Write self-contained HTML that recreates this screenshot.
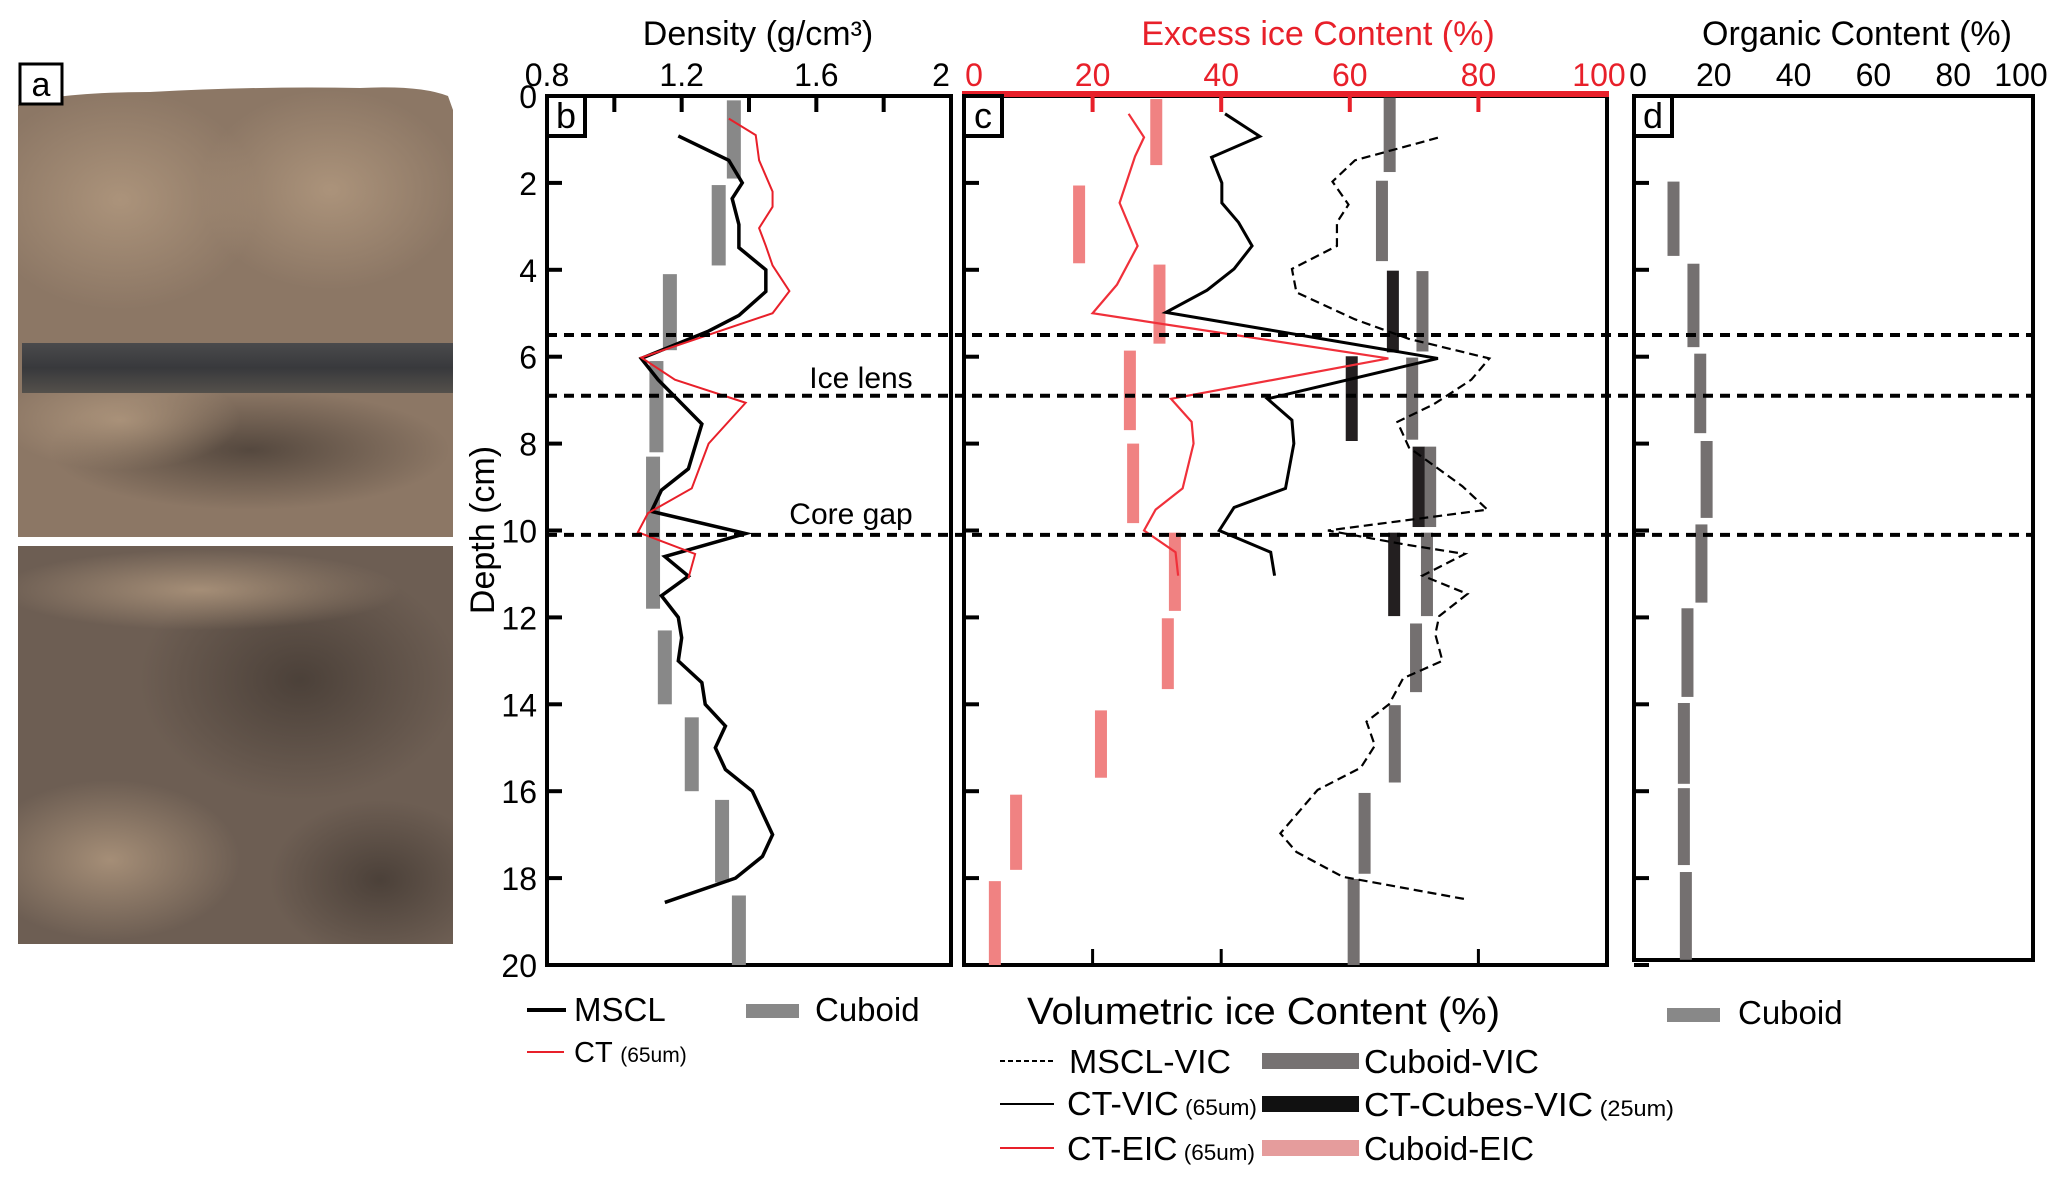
<!DOCTYPE html>
<html><head><meta charset="utf-8"><style>
html,body{margin:0;padding:0;background:#fff;}
svg{display:block;font-family:"Liberation Sans",sans-serif;}
</style></head><body>
<svg id="fig" width="2067" height="1179" viewBox="0 0 2067 1179" xmlns="http://www.w3.org/2000/svg">
<defs>
<radialGradient id="g1" cx="0.5" cy="0.5" r="0.5"><stop offset="0" stop-color="#b39a80" stop-opacity="0.8"/><stop offset="1" stop-color="#b39a80" stop-opacity="0"/></radialGradient>
<radialGradient id="g2" cx="0.5" cy="0.5" r="0.5"><stop offset="0" stop-color="#3d342e" stop-opacity="0.7"/><stop offset="1" stop-color="#3d342e" stop-opacity="0"/></radialGradient>
<linearGradient id="band" x1="0" y1="0" x2="0" y2="1"><stop offset="0" stop-color="#4a4a4c"/><stop offset="0.5" stop-color="#38393c"/><stop offset="1" stop-color="#54504b"/></linearGradient>
<clipPath id="photoclip">
<path d="M18,105 Q60,92 150,92 Q260,86 360,88 Q420,85 448,96 L453,110 L453,537 L18,537 Z"/>
<rect x="18" y="546" width="435" height="398"/>
</clipPath>
</defs>

<g clip-path="url(#photoclip)">
<rect x="18" y="85" width="440" height="460" fill="#8c7765"/>
<rect x="18" y="546" width="440" height="398" fill="#6d5e53"/>
<ellipse cx="120" cy="200" rx="140" ry="110" fill="url(#g1)"/>
<ellipse cx="330" cy="190" rx="130" ry="100" fill="url(#g1)"/>
<ellipse cx="250" cy="450" rx="200" ry="60" fill="url(#g2)"/>
<ellipse cx="120" cy="420" rx="120" ry="50" fill="url(#g1)"/>
<ellipse cx="300" cy="680" rx="160" ry="120" fill="url(#g2)"/>
<ellipse cx="110" cy="860" rx="130" ry="80" fill="url(#g1)"/>
<ellipse cx="380" cy="880" rx="110" ry="80" fill="url(#g2)"/>
<ellipse cx="200" cy="590" rx="200" ry="40" fill="url(#g1)"/>
<rect x="22" y="343" width="431" height="50" fill="url(#band)"/>
</g>
<rect x="20" y="64" width="42" height="40" fill="#fff" stroke="#000" stroke-width="3"/>
<text x="41" y="96" font-size="34" text-anchor="middle">a</text>

<g id="axes"></g>
<g id="marks"></g>

<text x="758" y="45" font-size="34" text-anchor="middle">Density (g/cm³)</text>
<text x="1318" y="45" font-size="34" text-anchor="middle" fill="#e8202a">Excess ice Content (%)</text>
<text x="1857" y="45" font-size="34" text-anchor="middle">Organic Content (%)</text>
<text transform="translate(494,530) rotate(-90)" font-size="34" text-anchor="middle">Depth (cm)</text>
<text x="861" y="388" font-size="30" text-anchor="middle">Ice lens</text>
<text x="851" y="524" font-size="30" text-anchor="middle">Core gap</text>
<text x="1027" y="1024" font-size="38" textLength="473" lengthAdjust="spacingAndGlyphs">Volumetric ice Content (%)</text>

<g>
<line x1="527" y1="1010" x2="566" y2="1010" stroke="#000" stroke-width="4"/>
<text x="574" y="1021" font-size="33">MSCL</text>
<rect x="746" y="1004" width="53" height="14" fill="#888"/>
<text x="815" y="1021" font-size="33">Cuboid</text>
<line x1="527" y1="1052" x2="564" y2="1052" stroke="#e8202a" stroke-width="2"/>
<text x="574" y="1062" font-size="29">CT <tspan font-size="21">(65um)</tspan></text>
</g>
<g>
<rect x="1667" y="1008" width="53" height="14" fill="#888"/>
<text x="1738" y="1024" font-size="33">Cuboid</text>
</g>
<g font-size="33">
<line x1="1000" y1="1061" x2="1054" y2="1061" stroke="#000" stroke-width="2" stroke-dasharray="5 3"/>
<text x="1069" y="1073" textLength="162" lengthAdjust="spacingAndGlyphs">MSCL-VIC</text>
<line x1="1000" y1="1104" x2="1054" y2="1104" stroke="#000" stroke-width="2"/>
<text x="1067" y="1115" textLength="190" lengthAdjust="spacingAndGlyphs">CT-VIC<tspan font-size="22"> (65um)</tspan></text>
<line x1="1000" y1="1148" x2="1054" y2="1148" stroke="#e8202a" stroke-width="2"/>
<text x="1067" y="1160" textLength="188" lengthAdjust="spacingAndGlyphs">CT-EIC<tspan font-size="22"> (65um)</tspan></text>
<rect x="1262" y="1053" width="97" height="16" fill="#767272"/>
<text x="1364" y="1073" textLength="175" lengthAdjust="spacingAndGlyphs">Cuboid-VIC</text>
<rect x="1262" y="1096" width="97" height="16" fill="#111"/>
<text x="1364" y="1116" textLength="310" lengthAdjust="spacingAndGlyphs">CT-Cubes-VIC<tspan font-size="22"> (25um)</tspan></text>
<rect x="1262" y="1140" width="97" height="16" fill="#e59c9c"/>
<text x="1364" y="1160" textLength="170" lengthAdjust="spacingAndGlyphs">Cuboid-EIC</text>
</g>
</svg>
<script>
// ---------- data ----------
const depthTicks = [0,2,4,6,8,10,12,14,16,18,20];
const densityTicks = [0.8,1.2,1.6,2];
const densityTickLabels = ["0.8","1.2","1.6","2"];
const excessTicks = [0,20,40,60,80,100];
const organicTicks = [0,20,40,60,80,100];
const boundaryDepths = [5.5,6.9,10.1];

const msclDensity = [1.19,1.34,1.38,1.35,1.37,1.37,1.45,1.45,1.37,1.28,1.08,1.13,1.26,1.22,1.14,1.11,1.39,1.15,1.22,1.14,1.19,1.20,1.19,1.26,1.27,1.33,1.30,1.33,1.41,1.47,1.44,1.36,1.15];
const msclDepth   = [0.92,1.48,2.0,2.36,2.96,3.49,4.0,4.5,5.05,5.41,6.04,6.53,7.55,8.58,9.07,9.56,10.07,10.6,11.05,11.5,12.0,12.47,13.0,13.5,14.0,14.5,15.0,15.5,16.0,17.0,17.5,18.0,18.56];
const ctDensity = [1.34,1.42,1.43,1.47,1.47,1.43,1.45,1.47,1.52,1.47,1.08,1.18,1.39,1.28,1.23,1.10,1.07,1.24,1.22];
const ctDepth   = [0.52,0.9,1.48,2.2,2.55,3.04,3.45,3.9,4.49,5.0,6.02,6.53,7.06,8.0,9.03,9.6,10.04,10.54,11.1];
const cuboidDensity = [1.355,1.31,1.165,1.125,1.115,1.15,1.23,1.32,1.37];
const cuboidTop     = [0.1,2.05,4.1,6.1,8.3,12.3,14.3,16.2,18.4];
const cuboidBottom  = [1.9,3.9,5.85,8.2,11.8,14.0,16.0,18.1,20.0];

const eicValues = [25.6,28.0,26.6,24.2,27.0,23.8,20.0,66.0,32.2,35.4,35.7,34.0,29.8,28.0,32.9,33.3];
const eicDepth  = [0.41,0.95,1.39,2.46,3.45,4.34,5.0,6.04,6.97,7.5,8.0,9.03,9.52,10.0,10.5,11.04];
const ctVicValues = [40.6,46.0,38.5,40.1,40.1,42.7,44.8,42.0,37.8,31.4,73.7,47.2,51.0,51.3,50.0,42.0,39.7,47.7,48.3];
const ctVicDepth  = [0.41,0.93,1.41,2.0,2.46,2.91,3.45,3.98,4.47,4.98,6.04,6.97,7.46,8.0,9.03,9.47,10.0,10.5,11.04];
const msclVicValues = [73.7,60.8,57.3,59.8,58.0,58.0,51.0,51.7,60.8,69.2,81.7,78.9,73.0,67.4,69.2,77.5,81.4,56.6,68.5,77.9,71.3,78.3,73.9,73.3,74.4,68.3,66.1,62.6,63.9,61.7,55.0,49.2,51.7,58.9,77.8];
const msclVicDepth  = [0.96,1.48,1.97,2.5,2.91,3.45,3.98,4.52,5.14,5.59,6.04,6.53,7.1,7.5,8.09,8.98,9.52,10.0,10.32,10.54,11.04,11.46,11.97,12.39,13.0,13.4,14.0,14.4,14.95,15.46,15.97,16.97,17.4,17.97,18.48];
const cuboidEic     = [29.9,17.9,30.4,25.8,26.3,32.8,31.7,21.3,8.1,4.8];
const cuboidEicTop  = [0.07,2.06,3.88,5.86,8.0,10.05,12.02,14.14,16.08,18.07];
const cuboidEicBot  = [1.59,3.85,5.7,7.69,9.83,11.85,13.65,15.69,17.81,20.0];
const cuboidVic     = [66.2,65.0,71.3,69.7,72.5,72.0,70.3,67.0,62.3,60.6];
const cuboidVicTop  = [0.04,1.95,4.03,6.02,8.07,10.05,12.14,14.02,16.04,18.02];
const cuboidVicBot  = [1.75,3.8,5.88,7.91,9.92,11.97,13.72,15.8,17.9,20.0];
const ctCubeVic     = [66.7,60.3,70.7,66.9];
const ctCubeTop     = [4.02,5.99,8.07,10.05];
const ctCubeBot     = [5.9,7.94,9.92,11.97];

const organicValues = [9.9,14.9,16.6,18.2,16.9,13.4,12.5,12.5,13.0];
const organicTop    = [1.97,3.86,5.93,7.94,9.86,11.79,13.97,15.93,17.86];
const organicBot    = [3.68,5.78,7.76,9.71,11.66,13.83,15.83,17.7,19.88];

// ---------- scales ----------
const TOP=96, BOT=965;
const B={l:547,r:951}, C={l:964,r:1607}, D={l:1634,r:2033};
const yS = z => TOP + z/20*(BOT-TOP);
const xB = v => B.l + (v-0.8)/1.2*(B.r-B.l);
const xC = v => C.l + v/100*(C.r-C.l);
const xD = v => D.l + v/100*(D.r-D.l);

const NS="http://www.w3.org/2000/svg";
const axes=document.getElementById('axes');
const marks=document.getElementById('marks');
function mk(tag, attrs, parent){ const e=document.createElementNS(NS,tag); for(const k in attrs) e.setAttribute(k,attrs[k]); parent.appendChild(e); return e; }

const fb=mk('rect',{x:B.l,y:TOP,width:B.r-B.l,height:BOT-TOP,fill:'none',stroke:'#000','stroke-width':4},axes);


const fc=mk('rect',{x:C.l,y:TOP,width:C.r-C.l,height:BOT-TOP,fill:'none',stroke:'#000','stroke-width':4},axes);


const fd=mk('rect',{x:D.l,y:TOP,width:D.r-D.l,height:BOT-TOP-5,fill:'none',stroke:'#000','stroke-width':4},axes);


const redTop=mk('line',{x1:C.l-2,y1:TOP-2,x2:C.r+2,y2:TOP-2,stroke:'#e8202a','stroke-width':6},axes);



depthTicks.forEach(z=>{
  [B.l,C.l,D.l].forEach(x0=>{
    const t=mk('line',{x1:x0,y1:yS(z),x2:x0+15,y2:yS(z),stroke:'#000','stroke-width':4},axes);
    
    
  });
  const lb=mk('text',{x:B.l-10,y:yS(z)+12,'font-size':32,'text-anchor':'end'},axes);
  lb.textContent=z;
  
  
});
[1.0,1.2,1.4,1.6,1.8].forEach(v=>{
  const t=mk('line',{x1:xB(v),y1:TOP,x2:xB(v),y2:TOP+16,stroke:'#000','stroke-width':4},axes);
  
  
});
densityTicks.forEach((v,i)=>{
  const lb=mk('text',{x:xB(v)+(v===2?-10:0),y:86,'font-size':32,'text-anchor':'middle'},axes);
  lb.textContent=densityTickLabels[i];
  
  
});
excessTicks.forEach(v=>{
  if(v>0&&v<100){
    const t=mk('line',{x1:xC(v),y1:TOP,x2:xC(v),y2:TOP+16,stroke:'#e8202a','stroke-width':4},axes);
    
    
    const t2=mk('line',{x1:xC(v),y1:BOT,x2:xC(v),y2:BOT-16,stroke:'#000','stroke-width':3},axes);
    
    
  }
  const lb=mk('text',{x:v===100?xC(v)-8:xC(v)+(v===0?10:0),y:86,'font-size':32,'text-anchor':'middle',fill:'#e8202a'},axes);
  lb.textContent=v;
  
  
});
organicTicks.forEach(v=>{
  const lb=mk('text',{x:v===100?xD(v)-12:xD(v)+(v===0?4:0),y:86,'font-size':32,'text-anchor':'middle'},axes);
  lb.textContent=v;
  
  
});
[['b',B.l],['c',C.l],['d',D.l]].forEach(([s,x0])=>{
  const r=mk('rect',{x:x0,y:TOP,width:38,height:40,fill:'#fff',stroke:'#000','stroke-width':4},axes);
  
  
  const t=mk('text',{x:x0+19,y:TOP+32,'font-size':36,'text-anchor':'middle'},axes);
  t.textContent=s;
  
  
});

function bars(vals,tops,bots,xf,w,color,name){
  vals.forEach((v,i)=>{
    const r=mk('rect',{x:xf(v)-w/2,y:yS(tops[i]),width:w,height:yS(bots[i])-yS(tops[i]),fill:color},marks);
    
    
  });
}
function line(vals,deps,xf,attrs,name){
  const p=mk('polyline',Object.assign({points:vals.map((v,i)=>xf(v)+','+yS(deps[i])).join(' '),fill:'none','stroke-linejoin':'miter'},attrs),marks);
  
  
}
bars(cuboidDensity,cuboidTop,cuboidBottom,xB,14,'#888','cuboid-density-bar');
line(msclDensity,msclDepth,xB,{stroke:'#000','stroke-width':3.5},'mscl-density-line');
line(ctDensity,ctDepth,xB,{stroke:'#e8202a','stroke-width':2},'ct-density-line');
bars(cuboidEic,cuboidEicTop,cuboidEicBot,xC,12,'#f08282','cuboid-eic-bar');
bars(cuboidVic,cuboidVicTop,cuboidVicBot,xC,12,'#747070','cuboid-vic-bar');
bars(ctCubeVic,ctCubeTop,ctCubeBot,xC,12,'#231f20','ct-cubes-vic-bar');
line(msclVicValues,msclVicDepth,xC,{stroke:'#000','stroke-width':2.2,'stroke-dasharray':'9 5'},'mscl-vic-line');
line(ctVicValues,ctVicDepth,xC,{stroke:'#000','stroke-width':3},'ct-vic-line');
line(eicValues,eicDepth,xC,{stroke:'#f0303a','stroke-width':2.2},'ct-eic-line');
bars(organicValues,organicTop,organicBot,xD,12,'#747070','organic-cuboid-bar');
boundaryDepths.forEach(z=>{
  const l=mk('line',{x1:B.l,y1:yS(z),x2:D.r,y2:yS(z),stroke:'#000','stroke-width':4,'stroke-dasharray':'10 7'},marks);
  
  
});
</script>
</body></html>
